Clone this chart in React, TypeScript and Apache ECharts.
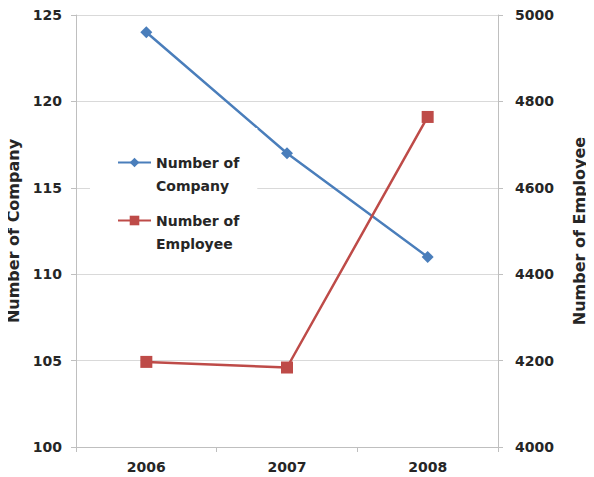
import React, { useEffect, useRef } from "react";
import * as echarts from "echarts";

const years = ["2006", "2007", "2008"];
const companyCount = [124, 117, 111];
const employeeCount = [4197, 4184, 4764];
const seriesNames = ["Number of Company", "Number of Employee"];

const FONT = "DejaVu Sans";
const TXT = "#262626";

export default function App() {
  const ref = useRef<HTMLDivElement>(null);
  useEffect(() => {
    if (!ref.current) return;
    const chart = echarts.init(ref.current, undefined, { renderer: "svg" });
    const L = 23;
    chart.setOption({
      animation: false,
      backgroundColor: "#ffffff",
      grid: {
        left: 76,
        right: 96,
        top: 15,
        bottom: 30,
        containLabel: false,
        outerBoundsMode: "none",
      },
      legend: {
        orient: "vertical",
        left: 90,
        top: 128,
        padding: [0, 18, 8, 27],
        backgroundColor: "#ffffff",
        itemWidth: 33,
        itemHeight: 12,
        itemGap: -11,
        data: seriesNames,
        formatter: (name: string) => "\n" + name.replace(" of ", " of\n"),
        textStyle: {
          fontFamily: FONT,
          fontWeight: "bold",
          fontSize: 14,
          color: TXT,
          lineHeight: L,
        },
      },
      xAxis: {
        type: "category",
        data: years,
        boundaryGap: true,
        axisLine: { show: true, lineStyle: { color: "#bfbfbf", width: 1 } },
        axisTick: { show: true, length: 5, lineStyle: { color: "#bfbfbf" } },
        axisLabel: {
          margin: 13,
          fontFamily: FONT,
          fontWeight: "bold",
          fontSize: 14,
          color: TXT,
        },
        splitLine: { show: false },
      },
      yAxis: [
        {
          type: "value",
          min: 100,
          max: 125,
          interval: 5,
          position: "left",
          name: seriesNames[0],
          nameLocation: "middle",
          nameRotate: 90,
          nameGap: 53,
          nameTextStyle: {
            fontFamily: FONT,
            fontWeight: "bold",
            fontSize: 16,
            color: TXT,
          },
          axisLine: { show: true, lineStyle: { color: "#bfbfbf", width: 1 } },
          axisTick: { show: true, length: 5, lineStyle: { color: "#bfbfbf" } },
          axisLabel: {
            margin: 14,
            fontFamily: FONT,
            fontWeight: "bold",
            fontSize: 14,
            color: TXT,
          },
          splitLine: { show: true, lineStyle: { color: "#d9d9d9", width: 1 } },
        },
        {
          type: "value",
          min: 4000,
          max: 5000,
          interval: 200,
          position: "right",
          name: seriesNames[1],
          nameLocation: "middle",
          nameRotate: 90,
          nameGap: 73,
          nameTextStyle: {
            fontFamily: FONT,
            fontWeight: "bold",
            fontSize: 16,
            color: TXT,
          },
          axisLine: { show: true, lineStyle: { color: "#bfbfbf", width: 1 } },
          axisTick: { show: true, length: 5, lineStyle: { color: "#bfbfbf" } },
          axisLabel: {
            margin: 17,
            fontFamily: FONT,
            fontWeight: "bold",
            fontSize: 14,
            color: TXT,
            formatter: (v: number) => String(v),
          },
          splitLine: { show: false },
        },
      ],
      series: [
        {
          name: seriesNames[0],
          type: "line",
          yAxisIndex: 0,
          data: companyCount,
          symbol: "diamond",
          symbolSize: 12,
          color: "#4A7EBB",
          lineStyle: { color: "#4A7EBB", width: 2.5 },
          itemStyle: { color: "#4A7EBB" },
        },
        {
          name: seriesNames[1],
          type: "line",
          yAxisIndex: 1,
          data: employeeCount,
          symbol: "rect",
          symbolSize: 12,
          color: "#BE4B48",
          lineStyle: { color: "#BE4B48", width: 2.5 },
          itemStyle: { color: "#BE4B48" },
        },
      ],
    });
    return () => chart.dispose();
  }, []);
  return <div ref={ref} style={{ width: 594, height: 477, marginLeft: -8, marginTop: -8 }} />;
}
